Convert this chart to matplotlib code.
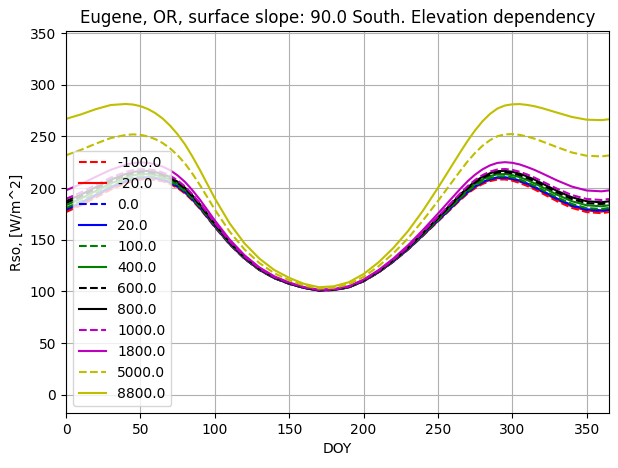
'''Importing Libraries'''
import numpy as np
import matplotlib
matplotlib.use('Agg')
import matplotlib.pyplot as plt

'''Data read off the chart: Rso [W/m^2] by day of year, one list per elevation'''
doy = [0, 10, 20, 30, 40, 45, 50, 55, 60, 65, 70, 75, 80, 85, 90, 95, 100, 110, 120, 130,
       140, 150, 160, 170, 180, 190, 200, 210, 220, 230, 240, 250, 260, 265, 270, 275, 280, 285, 290, 295,
       300, 305, 310, 315, 320, 330, 340, 350, 360, 365]

elevations = [-100.0, -20.0, 0.0, 20.0, 100.0, 400.0, 600.0, 800.0, 1000.0, 1800.0, 5000.0, 8800.0]

rso_m100 = [176.8, 183.4, 190.9, 198.5, 204.6, 206.9, 208.3, 208.5, 207.9, 206.6,
            204.1, 200.1, 194.8, 188.0, 180.1, 171.3, 162.3, 145.5, 131.6, 120.7,
            112.8, 107.4, 103.4, 100.9, 101.4, 103.9, 109.8, 118.3, 128.7, 140.6,
            153.9, 167.7, 181.5, 188.4, 194.8, 199.9, 204.0, 206.8, 208.3, 208.4,
            207.2, 205.0, 202.1, 198.7, 195.0, 187.4, 180.9, 176.8, 175.8, 176.8]
rso_m20 = [178.3, 184.8, 192.3, 199.9, 205.9, 208.1, 209.4, 209.7, 209.0, 207.6,
           205.1, 201.0, 195.6, 188.7, 180.7, 171.8, 162.8, 145.8, 131.9, 120.9,
           112.9, 107.5, 103.5, 101.0, 101.5, 104.0, 109.9, 118.4, 128.9, 140.9,
           154.3, 168.2, 182.2, 189.1, 195.6, 200.9, 205.0, 207.9, 209.5, 209.5,
           208.4, 206.3, 203.4, 200.1, 196.4, 188.8, 182.3, 178.3, 177.3, 178.3]
rso_0 = [179.0, 185.5, 193.0, 200.5, 206.5, 208.7, 210.0, 210.2, 209.5, 208.1,
         205.5, 201.4, 196.0, 189.0, 181.0, 172.1, 163.0, 146.0, 132.0, 121.0,
         113.0, 107.5, 103.5, 101.0, 101.5, 104.0, 110.0, 118.5, 129.0, 141.0,
         154.5, 168.5, 182.5, 189.5, 196.0, 201.3, 205.5, 208.4, 210.0, 210.1,
         209.0, 206.9, 204.0, 200.7, 197.0, 189.5, 183.0, 179.0, 178.0, 179.0]
rso_20 = [179.5, 186.0, 193.5, 201.0, 206.9, 209.1, 210.4, 210.6, 209.9, 208.5,
          205.8, 201.7, 196.3, 189.2, 181.2, 172.3, 163.2, 146.1, 132.1, 121.1,
          113.0, 107.5, 103.5, 101.0, 101.5, 104.0, 110.0, 118.6, 129.1, 141.1,
          154.6, 168.7, 182.7, 189.8, 196.3, 201.6, 205.9, 208.8, 210.4, 210.5,
          209.4, 207.3, 204.5, 201.2, 197.5, 190.0, 183.5, 179.5, 178.5, 179.5]
rso_100 = [180.8, 187.2, 194.7, 202.1, 208.0, 210.1, 211.4, 211.5, 210.8, 209.3,
           206.6, 202.4, 196.9, 189.8, 181.7, 172.7, 163.5, 146.4, 132.3, 121.2,
           113.2, 107.6, 103.6, 101.1, 101.6, 104.1, 110.1, 118.7, 129.3, 141.4,
           155.0, 169.1, 183.3, 190.4, 197.0, 202.4, 206.7, 209.7, 211.3, 211.5,
           210.4, 208.4, 205.5, 202.3, 198.6, 191.2, 184.7, 180.7, 179.8, 180.8]
rso_400 = [183.4, 189.8, 197.2, 204.5, 210.2, 212.3, 213.5, 213.5, 212.7, 211.1,
           208.2, 203.9, 198.3, 191.1, 182.8, 173.7, 164.4, 147.0, 132.7, 121.5,
           113.4, 107.8, 103.7, 101.2, 101.7, 104.2, 110.3, 119.0, 129.7, 141.9,
           155.7, 170.1, 184.5, 191.8, 198.5, 204.0, 208.5, 211.6, 213.4, 213.6,
           212.6, 210.6, 207.8, 204.6, 201.0, 193.7, 187.3, 183.4, 182.4, 183.4]
rso_600 = [185.6, 191.9, 199.3, 206.5, 212.1, 214.1, 215.2, 215.2, 214.2, 212.5,
           209.6, 205.2, 199.5, 192.1, 183.7, 174.5, 165.0, 147.5, 133.1, 121.8,
           113.6, 107.9, 103.8, 101.2, 101.8, 104.4, 110.5, 119.2, 130.0, 142.3,
           156.3, 170.9, 185.6, 192.9, 199.7, 205.4, 209.9, 213.2, 215.0, 215.3,
           214.4, 212.5, 209.7, 206.6, 203.0, 195.8, 189.4, 185.5, 184.6, 185.6]
rso_800 = [187.4, 193.7, 200.9, 208.1, 213.6, 215.6, 216.6, 216.5, 215.5, 213.7,
           210.7, 206.2, 200.4, 192.9, 184.5, 175.1, 165.6, 147.9, 133.4, 122.0,
           113.7, 108.0, 103.9, 101.3, 101.8, 104.5, 110.6, 119.4, 130.2, 142.7,
           156.8, 171.5, 186.4, 193.8, 200.7, 206.5, 211.1, 214.4, 216.4, 216.7,
           215.8, 214.0, 211.3, 208.2, 204.6, 197.4, 191.2, 187.3, 186.3, 187.3]
rso_1000 = [189.6, 195.8, 203.0, 210.1, 215.5, 217.4, 218.3, 218.2, 217.1, 215.2,
            212.1, 207.5, 201.6, 194.0, 185.4, 175.9, 166.3, 148.4, 133.7, 122.3,
            113.9, 108.2, 104.0, 101.4, 101.9, 104.6, 110.8, 119.7, 130.6, 143.1,
            157.4, 172.3, 187.4, 194.9, 202.0, 207.9, 212.6, 216.0, 218.0, 218.5,
            217.7, 215.8, 213.2, 210.1, 206.6, 199.5, 193.3, 189.5, 188.5, 189.5]
rso_1800 = [197.9, 203.9, 210.9, 217.7, 222.6, 224.2, 224.9, 224.5, 223.1, 220.8,
            217.3, 212.3, 206.0, 197.9, 188.9, 178.9, 168.8, 150.3, 135.1, 123.3,
            114.7, 108.7, 104.3, 101.7, 102.3, 105.1, 111.5, 120.6, 131.8, 144.8,
            159.6, 175.3, 191.3, 199.2, 206.7, 213.0, 218.2, 222.0, 224.4, 225.1,
            224.5, 222.9, 220.4, 217.6, 214.3, 207.5, 201.5, 197.7, 196.9, 197.8]
rso_5000 = [231.8, 237.0, 243.0, 248.4, 251.4, 252.0, 251.6, 250.0, 247.4, 243.6,
            238.4, 231.8, 223.8, 213.9, 203.0, 191.2, 179.3, 157.9, 140.7, 127.5,
            117.7, 110.9, 105.8, 102.9, 103.6, 106.9, 114.1, 124.3, 136.8, 151.6,
            168.8, 187.5, 206.9, 216.6, 225.9, 234.1, 241.0, 246.4, 250.2, 252.0,
            252.3, 251.5, 249.9, 247.8, 245.2, 239.7, 234.5, 231.3, 230.7, 231.6]
rso_8800 = [267.0, 271.3, 276.4, 280.4, 281.4, 280.9, 279.3, 276.6, 272.6, 267.3,
            260.4, 252.1, 242.3, 230.5, 217.6, 203.9, 190.2, 165.9, 146.5, 131.8,
            120.8, 113.2, 107.4, 104.1, 105.0, 108.9, 116.8, 128.1, 142.0, 158.6,
            178.3, 200.2, 223.2, 234.7, 245.8, 255.9, 264.7, 271.8, 277.0, 279.9,
            281.1, 281.3, 280.5, 279.2, 277.4, 273.1, 268.9, 266.2, 265.8, 266.6]

series = [rso_m100, rso_m20, rso_0, rso_20, rso_100, rso_400,
          rso_600, rso_800, rso_1000, rso_1800, rso_5000, rso_8800]
colors = ['r', 'b', 'g', 'k', 'm', 'y']

'''Plotting'''
fig = plt.figure(figsize=(6.18, 4.68), dpi=100)
ax = fig.add_axes([0.1068, 0.1175, 0.8786, 0.8162])

for i, (elev, vals) in enumerate(zip(elevations, series)):
    style = '--' if i % 2 == 0 else '-'
    ax.plot(doy, vals, style, color=colors[i // 2], label=str(elev))

ax.set_xlim(0, 365)
ax.set_ylim(-17.6, 352)
ax.set_title('Eugene, OR, surface slope: 90.0 South. Elevation dependency')
ax.set_xlabel('DOY')
ax.set_ylabel('Rso, [W/m^2]')
ax.grid(True)
ax.legend(loc='lower left')

fig.savefig('out.png', dpi=100)
